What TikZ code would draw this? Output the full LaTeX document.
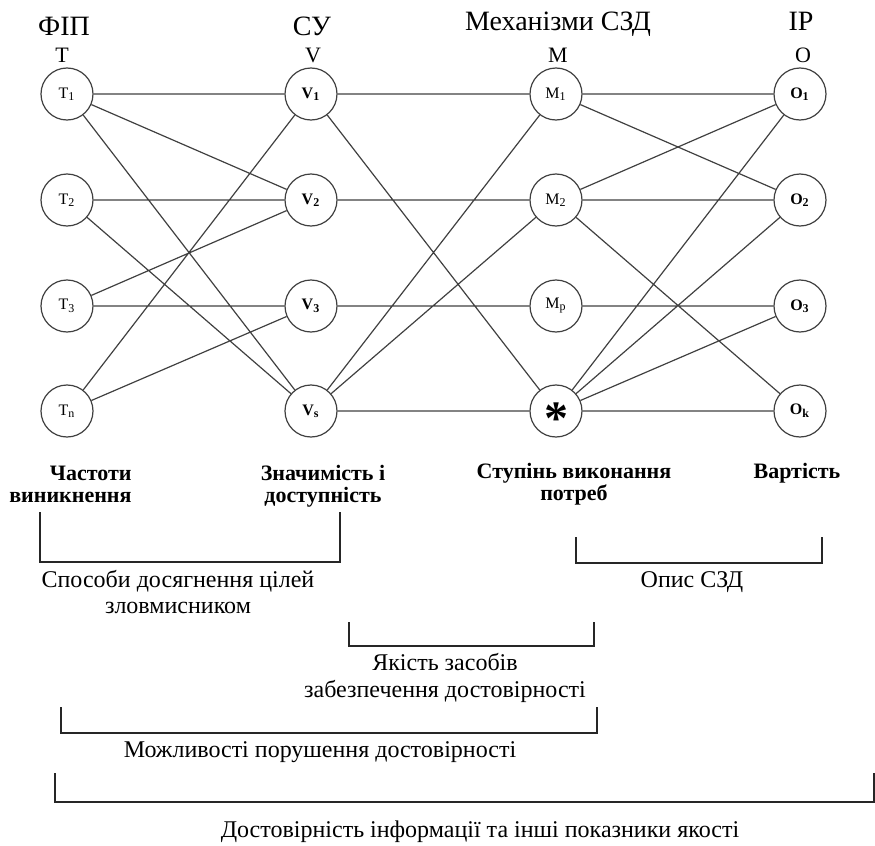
\documentclass[tikz,border=0pt]{standalone}
\usepackage{fontspec}
\setmainfont{Liberation Serif}
\usetikzlibrary{positioning}
\newcommand{\vsub}[2]{#1\textsubscript{#2}}

\begin{document}
\begin{tikzpicture}[x=0.5pt, y=-0.5pt,
  vert/.style={draw=black!75, circle, line width=0.6pt, minimum size=26pt, inner sep=0pt, fill=white, font=\fontsize{8}{8}\selectfont},
  edge/.style={draw=black!75, line width=0.6pt},
  hdr/.style={anchor=base, inner sep=0pt, font=\fontsize{14}{14}\selectfont},
  sym/.style={anchor=base, inner sep=0pt, font=\fontsize{11}{11}\selectfont},
  crit/.style={anchor=base, inner sep=0pt, align=center, font=\fontsize{11}{11}\selectfont\bfseries},
  bktext/.style={anchor=base, inner sep=0pt, align=center, font=\fontsize{12}{13}\selectfont},
  brk/.style={draw=black!85, line width=1pt}]
  \useasboundingbox (0,0) rectangle (875,846);

  % Column headings
  \node[hdr] (hFIP) at (64,35) {ФІП};
  \node[hdr] (hSU) at (312,35) {СУ};
  \node[hdr] (hMech) at (558,31) {Механізми СЗД};
  \node[hdr] (hIR) at (801,31) {ІР};
  \node[sym] (sT) at (62,62) {T};
  \node[sym] (sV) at (313,62) {V};
  \node[sym] (sM) at (558,62) {M};
  \node[sym] (sO) at (803,62) {O};

  % Threats
  \node[vert] (T1) at (67,94) {\vsub{T}{1}};
  \node[vert] (T2) at (67,200) {\vsub{T}{2}};
  \node[vert] (T3) at (67,306) {\vsub{T}{3}};
  \node[vert] (Tn) at (67,411) {\vsub{T}{n}};

  % Vulnerable states
  \node[vert] (V1) at (311,94) {\textbf{\vsub{V}{1}}};
  \node[vert] (V2) at (311,200) {\textbf{\vsub{V}{2}}};
  \node[vert] (V3) at (311,306) {\textbf{\vsub{V}{3}}};
  \node[vert] (Vs) at (311,411) {\textbf{\vsub{V}{s}}};

  % Mechanisms
  \node[vert] (M1) at (556,94) {\vsub{M}{1}};
  \node[vert] (M2) at (556,200) {\vsub{M}{2}};
  \node[vert] (Mp) at (556,306) {\vsub{M}{p}};
  \node[vert] (Mx) at (556,411) {\fontsize{24}{24}\selectfont\bfseries\raisebox{-11.5pt}[0pt][0pt]{*}};

  % Resources
  \node[vert] (O1) at (800,94) {\textbf{\vsub{O}{1}}};
  \node[vert] (O2) at (800,200) {\textbf{\vsub{O}{2}}};
  \node[vert] (O3) at (800,306) {\textbf{\vsub{O}{3}}};
  \node[vert] (Ok) at (800,411) {\textbf{\vsub{O}{k}}};

  % T -> V
  \draw[edge] (T1) -- (V1) (T1) -- (V2) (T1) -- (Vs)
              (T2) -- (V2) (T2) -- (Vs)
              (T3) -- (V2) (T3) -- (V3)
              (Tn) -- (V1) (Tn) -- (V3);
  % V -> M
  \draw[edge] (V1) -- (M1) (V1) -- (Mx)
              (V2) -- (M2) (V3) -- (Mp)
              (Vs) -- (M1) (Vs) -- (M2) (Vs) -- (Mx);
  % M -> O
  \draw[edge] (M1) -- (O1) (M1) -- (O2)
              (M2) -- (O1) (M2) -- (O2) (M2) -- (Ok)
              (Mp) -- (O3)
              (Mx) -- (O1) (Mx) -- (O2) (Mx) -- (O3) (Mx) -- (Ok);

  % Criteria (base = last line)
  \node[crit, anchor=base east, align=right] (cFreq) at (132,502) {Частоти\\виникнення};
  \node[crit] (cSig) at (323,502) {Значимість і\\доступність};
  \node[crit] (cDeg) at (574,500) {Ступінь виконання\\потреб};
  \node[crit] (cCost) at (797,478) {Вартість};

  % Brackets
  \draw[brk] (40,512) -- (40,562) -- (340,562) -- (340,512);
  \node[bktext] (bWays) at (178,613) {Способи досягнення цілей\\зловмисником};
  \draw[brk] (576,537) -- (576,563) -- (822,563) -- (822,537);
  \node[bktext] (bDesc) at (692,587) {Опис СЗД};
  \draw[brk] (349,622) -- (349,646) -- (594,646) -- (594,622);
  \node[bktext, font=\fontsize{12}{13.5}\selectfont] (bQual) at (445,697) {Якість засобів\\забезпечення достовірності};
  \draw[brk] (61,707) -- (61,733) -- (597,733) -- (597,707);
  \node[bktext] (bPoss) at (320,757) {Можливості порушення достовірності};
  \draw[brk] (55,773) -- (55,802) -- (874,802) -- (874,773);
  \node[bktext] (bAll) at (480,837) {Достовірність інформації та інші показники якості};
\end{tikzpicture}
\end{document}
